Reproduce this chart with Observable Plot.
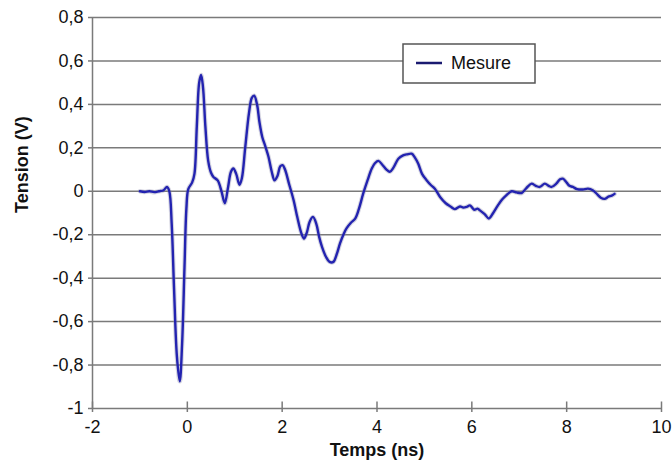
<!DOCTYPE html>
<html>
<head>
<meta charset="utf-8">
<script src="https://cdn.jsdelivr.net/npm/d3@7"></script>
<script src="https://cdn.jsdelivr.net/npm/@observablehq/plot@0.6"></script>
<style>
  html, body { margin: 0; padding: 0; background: #fff; }
  #chart { width: 672px; height: 465px; }
</style>
</head>
<body>
<div id="chart"></div>
<script>
// Time (ns)
const temps = [
  -1.00, -0.90, -0.80, -0.70, -0.60, -0.50, -0.43, -0.38, -0.33, -0.28,
  -0.22, -0.16, -0.11, -0.06, -0.02, 0.02, 0.10, 0.15, 0.20, 0.25,
  0.29, 0.33, 0.38, 0.44, 0.50, 0.55, 0.64, 0.72, 0.79, 0.86,
  0.92, 0.97, 1.03, 1.10, 1.15, 1.22, 1.30, 1.36, 1.41, 1.47,
  1.52, 1.58, 1.64, 1.71, 1.78, 1.84, 1.90, 1.96, 2.01, 2.06,
  2.15, 2.24, 2.32, 2.40, 2.46, 2.52, 2.58, 2.65, 2.72, 2.78,
  2.84, 2.92, 3.00, 3.08, 3.15, 3.22, 3.30, 3.36, 3.45, 3.54,
  3.62, 3.71, 3.80, 3.89, 3.96, 4.03, 4.12, 4.20, 4.27, 4.35,
  4.45, 4.55, 4.63, 4.73, 4.80, 4.87, 4.95, 5.05, 5.13, 5.22,
  5.33, 5.45, 5.55, 5.64, 5.75, 5.82, 5.89, 5.96, 6.05, 6.12,
  6.17, 6.27, 6.36, 6.45, 6.55, 6.63, 6.72, 6.84, 6.94, 7.05,
  7.15, 7.26, 7.35, 7.43, 7.54, 7.62, 7.68, 7.78, 7.86, 7.92,
  8.00, 8.06, 8.13, 8.22, 8.34, 8.45, 8.55, 8.65, 8.72, 8.80,
  8.88, 8.95, 9.01
];
// Voltage (V)
const tension = [
  0.000, -0.003, 0.000, -0.004, 0.000, 0.005, 0.020, 0.000, -0.150, -0.450,
  -0.760, -0.875, -0.700, -0.350, -0.080, 0.010, 0.040, 0.080, 0.300, 0.500,
  0.535, 0.480, 0.300, 0.140, 0.085, 0.066, 0.050, 0.000, -0.055, 0.020,
  0.090, 0.105, 0.080, 0.030, 0.060, 0.200, 0.360, 0.430, 0.440, 0.400,
  0.320, 0.250, 0.210, 0.160, 0.090, 0.050, 0.070, 0.115, 0.120, 0.100,
  0.030, -0.040, -0.120, -0.190, -0.218, -0.190, -0.140, -0.118, -0.150, -0.210,
  -0.256, -0.300, -0.325, -0.325, -0.290, -0.240, -0.195, -0.170, -0.145, -0.126,
  -0.080, -0.010, 0.050, 0.105, 0.130, 0.140, 0.120, 0.100, 0.090, 0.110,
  0.150, 0.165, 0.170, 0.173, 0.155, 0.127, 0.080, 0.050, 0.030, 0.012,
  -0.026, -0.055, -0.070, -0.082, -0.070, -0.075, -0.072, -0.065, -0.085, -0.080,
  -0.088, -0.105, -0.125, -0.100, -0.065, -0.040, -0.020, 0.000, -0.005, -0.008,
  0.015, 0.035, 0.025, 0.020, 0.035, 0.025, 0.020, 0.035, 0.055, 0.058,
  0.040, 0.025, 0.020, 0.010, 0.008, 0.012, 0.005, -0.015, -0.030, -0.035,
  -0.025, -0.020, -0.012
];
const xTicks = [-2, 0, 2, 4, 6, 8, 10];
const yTicks = [-1, -0.8, -0.6, -0.4, -0.2, 0, 0.2, 0.4, 0.6, 0.8];
const gridLines = [-0.8, -0.6, -0.4, -0.2, 0, 0.2, 0.4, 0.6, 0.8];
const xDomain = [-2, 10];
const yDomain = [-1, 0.8];
const seriesName = "Mesure";
const xTitle = "Temps (ns)";
const yTitle = "Tension (V)";

const data = temps.map((t, i) => ({t, v: tension[i]}));
const fmt = d => String(d).replace(".", ",");
const axisColor = "#7a7a7a";

const plot = Plot.plot({
  width: 672,
  height: 465,
  marginLeft: 92,
  marginRight: 11,
  marginTop: 17,
  marginBottom: 57,
  style: {fontFamily: "'Liberation Sans', Arial, Helvetica, sans-serif", fontSize: "18px", color: "#111", background: "#fff"},
  x: {domain: xDomain},
  y: {domain: yDomain},
  marks: [
    Plot.ruleY(gridLines, {stroke: axisColor, strokeWidth: 1.5}),
    Plot.ruleX([xDomain[0]], {stroke: axisColor, strokeWidth: 1.5}),
    Plot.ruleY([yDomain[0]], {stroke: axisColor, strokeWidth: 1.5}),
    Plot.ruleX(xTicks, {y1: yDomain[0], y2: yDomain[0] + 0.03, stroke: axisColor, strokeWidth: 1.5}),
    Plot.axisX({ticks: xTicks, tickFormat: fmt, tickSize: 4, tickPadding: 8, label: null, stroke: axisColor, strokeWidth: 1.5, fill: "#111", fontSize: 18}),
    Plot.axisY({ticks: yTicks, tickFormat: fmt, tickSize: 4, tickPadding: 5, label: null, stroke: axisColor, strokeWidth: 1.5, fill: "#111", fontSize: 18}),
    Plot.line(data, {x: "t", y: "v", stroke: "#8888aa", strokeWidth: 4.5, strokeOpacity: 0.35, curve: "catmull-rom"}),
    Plot.line(data, {x: "t", y: "v", stroke: "#2323b0", strokeWidth: 2.4, curve: "catmull-rom"}),
    Plot.text([xTitle], {frameAnchor: "bottom", dy: 47, fontWeight: "bold", fontSize: 18, fill: "#111"}),
    Plot.text([yTitle], {frameAnchor: "left", dx: -70, rotate: -90, fontWeight: "bold", fontSize: 18, fill: "#111"})
  ]
});
document.getElementById("chart").appendChild(plot);

// Legend box
const svg = d3.select(plot);
const lg = svg.append("g");
lg.append("rect").attr("x", 403).attr("y", 44).attr("width", 132).attr("height", 39)
  .attr("fill", "#fff").attr("stroke", "#555").attr("stroke-width", 1.5);
lg.append("line").attr("x1", 416).attr("x2", 442).attr("y1", 63).attr("y2", 63)
  .attr("stroke", "#1a1a70").attr("stroke-width", 2.5);
lg.append("text").attr("x", 451).attr("y", 63).attr("dy", "0.35em")
  .attr("text-anchor", "start")
  .attr("font-size", 18).attr("fill", "#111").text(seriesName);
</script>
</body>
</html>
